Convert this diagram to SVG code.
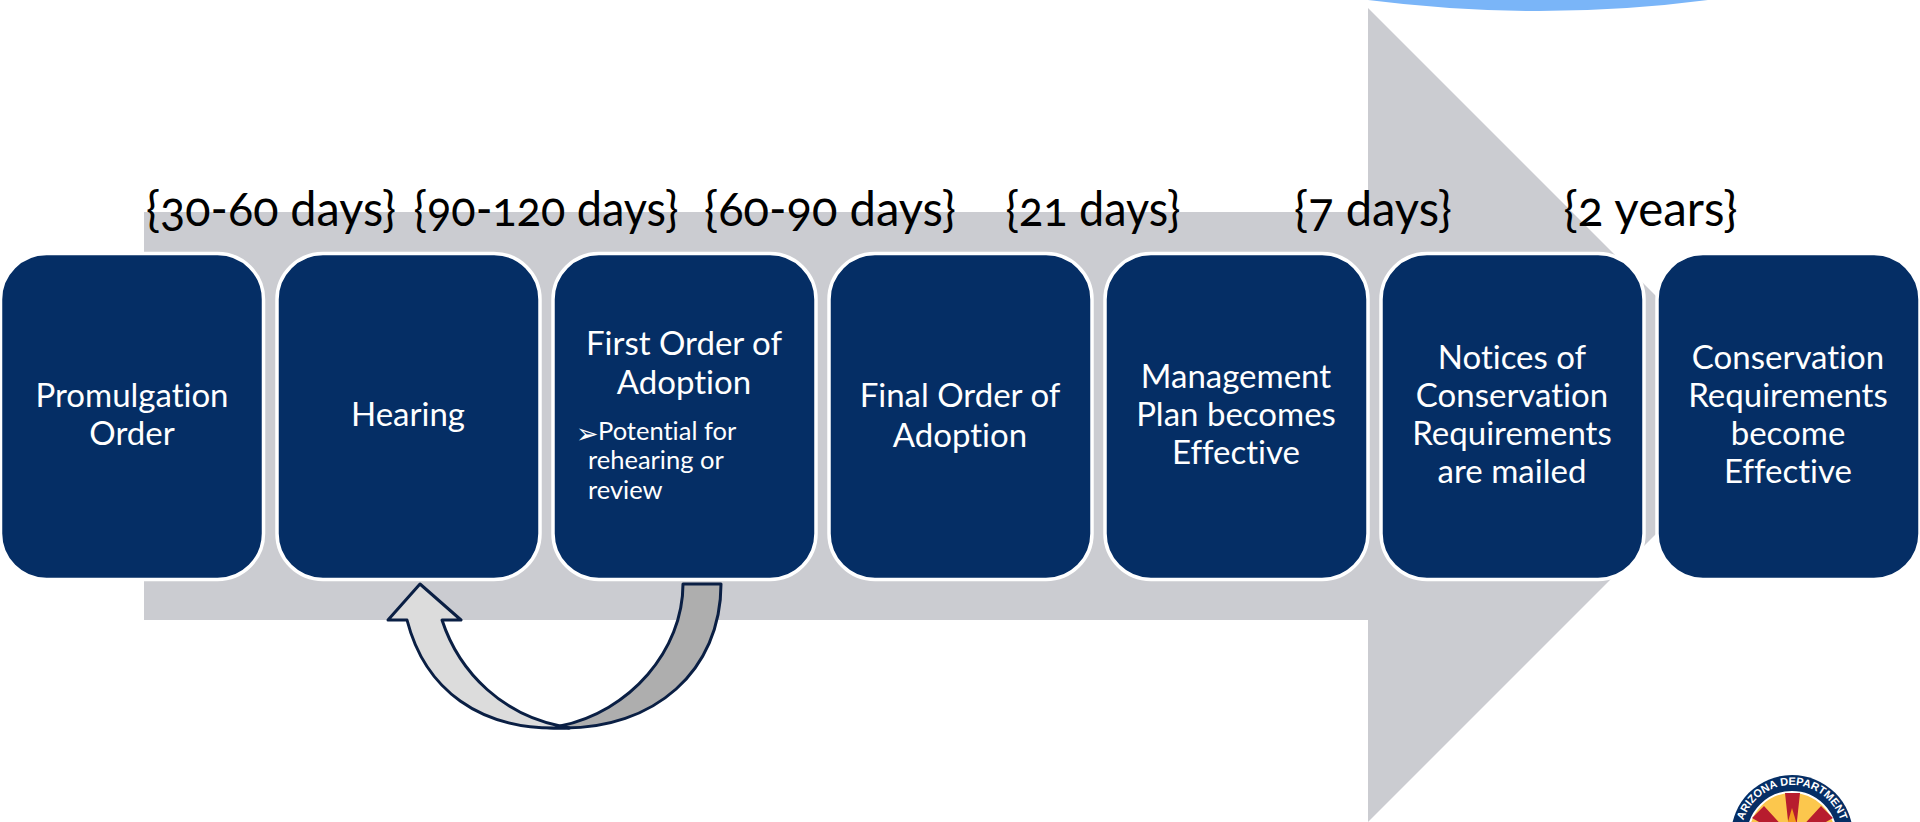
<svg xmlns="http://www.w3.org/2000/svg" width="1920" height="822" viewBox="0 0 1920 822">
<style>
.box{fill:#052e65;stroke:#fff;stroke-width:3.5}
.t{font-family:"Lato","Open Sans",sans-serif;font-size:33px;fill:#fff;text-anchor:middle;font-variant-ligatures:none}
.s{font-family:"Lato","Open Sans",sans-serif;font-size:25.5px;fill:#fff;font-variant-ligatures:none}
.b{font-family:"Lato","Open Sans",sans-serif;font-size:48px;fill:#000;text-anchor:middle;font-variant-numeric:oldstyle-nums}
.c{stroke:#0a1f44;stroke-width:3;stroke-linejoin:round}
</style>
<defs><path id="arc" d="M1741 836A51 51 0 0 1 1843 836"/></defs>
<rect width="1920" height="822" fill="#fff"/>
<g id="bubble"><path d="M1368 0H1708Q1540 22 1368 0Z" fill="#7ab5f8"/></g>
<g id="big-arrow"><path d="M144 212H1368V8L1775 415L1368 822V620H144Z" fill="#cbccd1"/></g>
<g id="labels">
<text class="b" x="271" y="226" textLength="250" lengthAdjust="spacingAndGlyphs">{30-60 days}</text>
<text class="b" x="546" y="226" textLength="265" lengthAdjust="spacingAndGlyphs">{90-120 days}</text>
<text class="b" x="830" y="226" textLength="252" lengthAdjust="spacingAndGlyphs">{60-90 days}</text>
<text class="b" x="1093" y="226" textLength="175" lengthAdjust="spacingAndGlyphs">{21 days}</text>
<text class="b" x="1373" y="226" textLength="158" lengthAdjust="spacingAndGlyphs">{7 days}</text>
<text class="b" x="1650.5" y="226" textLength="174" lengthAdjust="spacingAndGlyphs">{2 years}</text>
</g>
<g id="node1"><rect class="box" x="0.500" y="253.500" width="263" height="326" rx="46"/>
<text class="t" x="132" y="407">Promulgation</text><text class="t" x="132" y="445">Order</text></g>
<g id="node2"><rect class="box" x="277" y="253.500" width="263" height="326" rx="46"/>
<text class="t" x="408" y="426">Hearing</text></g>
<g id="node3"><rect class="box" x="553" y="253.500" width="263" height="326" rx="46"/>
<text class="t" x="684" y="355">First Order of</text><text class="t" x="684" y="394">Adoption</text>
<text x="576" y="443" font-family="DejaVu Sans, sans-serif" font-size="27" fill="#fff">➢</text>
<text class="s" x="598" y="440">Potential for</text><text class="s" x="588" y="469">rehearing or</text><text class="s" x="588" y="499">review</text></g>
<g id="node4"><rect class="box" x="829" y="253.500" width="263" height="326" rx="46"/>
<text class="t" x="960" y="407">Final Order of</text><text class="t" x="960" y="447">Adoption</text></g>
<g id="node5"><rect class="box" x="1105" y="253.500" width="263" height="326" rx="46"/>
<text class="t" x="1236" y="388">Management</text><text class="t" x="1236" y="426">Plan becomes</text><text class="t" x="1236" y="464">Effective</text></g>
<g id="node6"><rect class="box" x="1381" y="253.500" width="263" height="326" rx="46"/>
<text class="t" x="1512" y="369">Notices of</text><text class="t" x="1512" y="407">Conservation</text><text class="t" x="1512" y="445">Requirements</text><text class="t" x="1512" y="483">are mailed</text></g>
<g id="node7"><rect class="box" x="1657" y="253.500" width="263" height="326" rx="46"/>
<text class="t" x="1788" y="369">Conservation</text><text class="t" x="1788" y="407">Requirements</text><text class="t" x="1788" y="445">become</text><text class="t" x="1788" y="483">Effective</text></g>
<g id="connectors">
<path class="c" fill="#aeaeae" d="M683 584H721C721 670 655 730 560 728C540 728 545 727 560 726C630 712 683 650 683 584Z"/>
<path class="c" fill="#dcdcdc" d="M420 584L461 620H442C460 675 505 715 560 726C575 729 570 728 560 728C480 730 425 690 407 620H388Z"/>
</g>
<g id="logo">
<circle cx="1792" cy="836" r="61" fill="#052e65"/>
<circle cx="1792" cy="836" r="44" fill="#fcc74d" stroke="#fff" stroke-width="2"/>
<path d="M1785 793H1800L1796 830H1789Z M1752 818L1764 806L1786 830L1782 835Z M1833 818L1821 806L1799 830L1803 835Z" fill="#b71c2e"/>
<path d="M1792 808L1800 835H1784Z" fill="#f39a1e"/>
<text font-family="Liberation Sans, sans-serif" font-size="11" font-weight="bold" fill="#fff" text-anchor="middle"><textPath href="#arc" startOffset="50%">ARIZONA DEPARTMENT</textPath></text>
</g>
</svg>
